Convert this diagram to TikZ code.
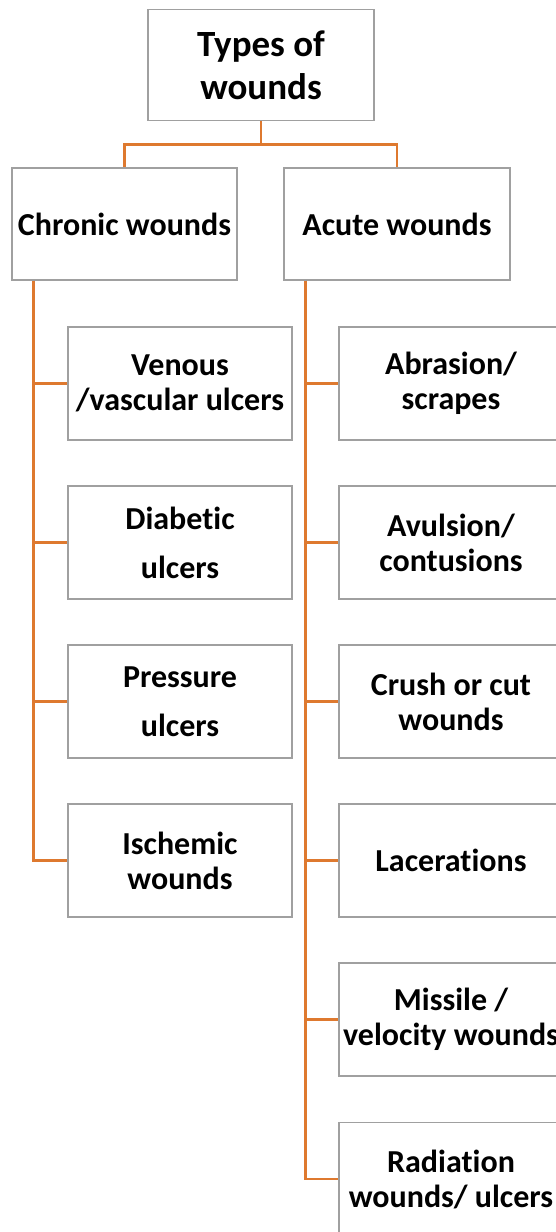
\documentclass[tikz,border=0pt]{standalone}
\usepackage{fontspec}
\setmainfont[Ligatures=NoCommon]{Carlito}
\usetikzlibrary{calc}
\definecolor{boxgray}{RGB}{160,160,160}
\definecolor{linkorange}{RGB}{222,121,47}

\begin{document}
\begin{tikzpicture}[x=1pt,y=-1pt,
  box/.style={draw=boxgray,line width=1.5pt,fill=white,align=center,inner sep=0pt,
    font=\fontsize{32}{35}\selectfont\bfseries},
  kid/.style={box,minimum width=224pt,minimum height=113pt},
  link/.style={linkorange,line width=2.7pt}]
\useasboundingbox (0,0) rectangle (556,1232);
\clip (0,0) rectangle (556,1232);
\node[box,minimum width=226pt,minimum height=111pt,
  font=\fontsize{37}{43}\selectfont\bfseries] (top) at (261,65) {Types of\\wounds};
\node[box,minimum width=225pt,minimum height=112pt] (chronic) at (124.5,224) {Chronic wounds};
\node[box,minimum width=226pt,minimum height=112pt] (acute) at (397,224) {Acute wounds};
\node[kid] (c1) at (180,383.5) {Venous\\/vascular ulcers};
\node[kid] (c2) at (180,542.5) {Diabetic\\[14pt]ulcers};
\node[kid] (c3) at (180,701.5) {Pressure\\[14pt]ulcers};
\node[kid] (c4) at (180,860.5) {Ischemic\\wounds};
\node[kid] (a1) at (451,383.5) {Abrasion/\\scrapes};
\node[kid] (a2) at (451,542.5) {Avulsion/\\contusions};
\node[kid] (a3) at (451,701.5) {Crush or cut\\wounds};
\node[kid] (a4) at (451,860.5) {Lacerations};
\node[kid] (a5) at (451,1019.5) {Missile /\\velocity wounds};
\node[kid] (a6) at (451,1179) {Radiation\\wounds/ ulcers};
\coordinate (ct) at ($(chronic.south west)+(22,0)$);
\coordinate (at) at ($(acute.south west)+(22,0)$);
\draw[link] (top.south) -- ++(0,23) -| (chronic.north);
\draw[link] (top.south) -- ++(0,23) -| (acute.north);
\draw[link] (ct) |- (c1.west);
\draw[link] (ct) |- (c2.west);
\draw[link] (ct) |- (c3.west);
\draw[link] (ct) |- (c4.west);
\draw[link] (at) |- (a1.west);
\draw[link] (at) |- (a2.west);
\draw[link] (at) |- (a3.west);
\draw[link] (at) |- (a4.west);
\draw[link] (at) |- (a5.west);
\draw[link] (at) |- (a6.west);
\end{tikzpicture}
\end{document}
